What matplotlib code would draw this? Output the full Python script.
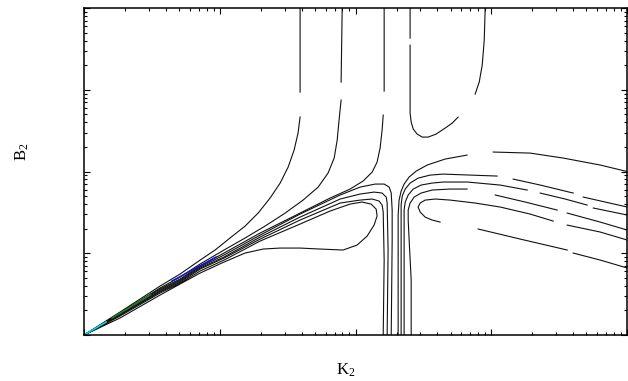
import numpy as np
import matplotlib
matplotlib.use('Agg')
import matplotlib.pyplot as plt
from matplotlib.ticker import LogLocator, NullFormatter

plt.rcParams['font.family'] = ['Liberation Serif', 'DejaVu Serif']
plt.rcParams['mathtext.fontset'] = 'custom'
plt.rcParams['mathtext.rm'] = 'Liberation Serif'
plt.rcParams['mathtext.it'] = 'Liberation Serif:italic'

nan = np.nan

# contour paths, stored as log10(K2), log10(B2); nan marks a label gap
k_up1 = [-2.0, -1.735, -1.44, -1.293, -1.145, -1.035, -0.925, -0.814, -0.718, -0.63, -0.556, -0.497, -0.453, -0.424, -0.409, nan, -0.409, -0.409]
b_up1 = [-2.0, -1.719, -1.401, -1.254, -1.083, -0.96, -0.813, -0.667, -0.508, -0.324, -0.141, 0.055, 0.263, 0.471, 0.667, nan, 0.972, 2.0]

k_up2 = [-2.0, -1.735, -1.44, -1.293, -1.145, -0.969, -0.814, -0.667, -0.519, -0.387, -0.276, -0.203, -0.158, -0.136, -0.122, -0.107, nan, -0.107, -0.099]
b_up2 = [-2.0, -1.731, -1.425, -1.291, -1.131, -0.96, -0.813, -0.667, -0.508, -0.349, -0.19, -0.018, 0.165, 0.385, 0.63, 0.875, nan, 1.095, 2.0]

k_up3 = [-2.0, -1.735, -1.44, -1.293, -1.145, -0.969, -0.703, -0.409, -0.188, -0.041, 0.055, 0.122, 0.158, 0.18, 0.195, 0.203, nan, 0.21, 0.21]
b_up3 = [-2.0, -1.731, -1.437, -1.315, -1.156, -0.997, -0.752, -0.508, -0.324, -0.214, -0.116, -0.006, 0.116, 0.287, 0.508, 0.691, nan, 0.985, 2.0]

k_l1 = [-2.0, -1.735, -1.44, -1.293, -1.145, -0.969, -0.703, -0.409, -0.114, 0.033, 0.144, 0.21, 0.247, 0.262, 0.269, 0.269, 0.262]
b_l1 = [-2.0, -1.743, -1.45, -1.327, -1.168, -1.021, -0.777, -0.52, -0.287, -0.19, -0.153, -0.153, -0.19, -0.263, -0.471, -0.838, -2.0]

k_l2 = [-2.0, -1.735, -1.44, -1.293, -1.145, -0.969, -0.703, -0.409, -0.114, 0.033, 0.136, 0.195, 0.225, 0.232, 0.239, 0.232]
b_l2 = [-2.0, -1.755, -1.462, -1.339, -1.18, -1.046, -0.801, -0.557, -0.336, -0.275, -0.251, -0.263, -0.312, -0.385, -0.96, -2.0]

k_l3 = [-2.0, -1.735, -1.44, -1.293, -1.145, -0.969, -0.703, -0.409, -0.114, 0.033, 0.122, 0.173, 0.195, 0.203, 0.21, 0.203]
b_l3 = [-2.0, -1.755, -1.474, -1.352, -1.193, -1.058, -0.826, -0.593, -0.385, -0.349, -0.336, -0.361, -0.41, -0.495, -1.083, -2.0]

k_lobe = [-2.0, -1.735, -1.44, -1.293, -1.145, -0.969, -0.703, -0.409, -0.188, -0.041, 0.047, 0.114, 0.151, 0.158, 0.136,
          0.085, 0.011, -0.092, -0.262, -0.409, -0.556, -0.681, -0.814, -0.969, -1.145, -1.293, -1.44, -1.735, -2.0]
b_lobe = [-2.0, -1.768, -1.486, -1.364, -1.217, -1.083, -0.85, -0.642, -0.483, -0.398, -0.373, -0.398, -0.459, -0.544, -0.654,
          -0.789, -0.899, -0.96, -0.948, -0.936, -0.936, -0.948, -0.997, -1.107, -1.242, -1.376, -1.511, -1.792, -2.0]

k_u = [0.401, 0.401, nan, 0.401, 0.401, 0.409, 0.424, 0.453, 0.49, 0.534, 0.593, 0.659, 0.711, 0.755, nan, 0.88, 0.91, 0.932, 0.947, 0.954]
b_u = [2.0, 1.633, nan, 1.547, 0.716, 0.606, 0.52, 0.459, 0.422, 0.422, 0.459, 0.532, 0.593, 0.667, nan, 0.948, 1.095, 1.303, 1.609, 2.0]

k_r1 = [0.313, 0.313, 0.313, 0.32, 0.335, 0.357, 0.394, 0.446, 0.527, 0.659, 0.821, nan, 1.013, 1.285, 1.529, 1.801, 2.0]
b_r1 = [-2.0, -0.96, -0.532, -0.349, -0.239, -0.153, -0.067, 0.006, 0.08, 0.153, 0.202, nan, 0.239, 0.226, 0.165, 0.08, 0.0]

k_r2 = [0.335, 0.335, 0.335, 0.343, 0.365, 0.401, 0.46, 0.549, 0.645, 0.843, 1.042, nan, 1.16, 1.359, 1.602, nan, 1.676, 1.838, 2.0]
b_r2 = [-2.0, -0.96, -0.41, -0.3, -0.214, -0.141, -0.08, -0.043, -0.031, -0.043, -0.055, nan, -0.092, -0.165, -0.263, nan, -0.312, -0.373, -0.434]

k_r3 = [0.357, 0.357, 0.357, 0.365, 0.387, 0.424, 0.482, 0.563, 0.645, 0.821, 1.064, 1.263, nan, 1.359, 1.543, 1.705, nan, 1.75, 2.0]
b_r3 = [-2.0, -0.96, -0.471, -0.373, -0.287, -0.214, -0.165, -0.141, -0.128, -0.128, -0.165, -0.226, nan, -0.263, -0.336, -0.41, nan, -0.446, -0.532]

k_r4 = [0.409, 0.409, 0.394, 0.387, 0.387, 0.401, 0.431, 0.482, 0.563, 0.696, 0.821, nan, 1.028, 1.249, 1.484, nan, 1.558, 1.801, 2.0]
b_r4 = [-2.0, -1.327, -0.838, -0.593, -0.471, -0.385, -0.312, -0.263, -0.226, -0.214, -0.214, nan, -0.287, -0.373, -0.471, nan, -0.508, -0.618, -0.716]

k_r5 = [0.622, 0.563, 0.512, 0.475, 0.46, 0.475, 0.512, 0.586, 0.696, 0.88, 1.064, 1.285, 1.455, nan, 1.558, 1.801, 2.0]
b_r5 = [-0.618, -0.593, -0.557, -0.495, -0.434, -0.385, -0.349, -0.336, -0.349, -0.385, -0.434, -0.52, -0.606, nan, -0.655, -0.74, -0.838]

k_r6 = [0.902, 1.212, 1.558, nan, 1.602, 1.801, 2.0]
b_r6 = [-0.703, -0.826, -0.96, nan, -0.997, -1.083, -1.18]

# low levels drawn in colour along the diagonal
k_cyan = [-2.0, -1.838]
b_cyan = [-2.0, -1.841]
k_green = [-1.794, -1.514]
b_green = [-1.792, -1.511]
k_blue = [-1.352, -1.028]
b_blue = [-1.339, -1.046]

black_paths = [(k_up1, b_up1), (k_up2, b_up2), (k_up3, b_up3),
               (k_l1, b_l1), (k_l2, b_l2), (k_l3, b_l3), (k_lobe, b_lobe),
               (k_u, b_u), (k_r1, b_r1), (k_r2, b_r2), (k_r3, b_r3),
               (k_r4, b_r4), (k_r5, b_r5), (k_r6, b_r6)]

fig = plt.figure(figsize=(6.28, 3.81), dpi=100)
ax = fig.add_axes([0.1338, 0.1207, 0.865, 0.858])

for k, b in black_paths:
    ax.plot(10**np.array(k), 10**np.array(b), color='#111111', lw=0.8)

ax.plot(10**np.array(k_cyan), 10**np.array(b_cyan), color='#00d8e0', lw=1.2)
ax.plot(10**np.array(k_green), 10**np.array(b_green), color='#1a8a1a', lw=1.0)
ax.plot(10**np.array(k_blue), 10**np.array(b_blue), color='#1010e0', lw=1.1)

ax.set_xscale('log')
ax.set_yscale('log')
ax.set_xlim(1e-2, 1e2)
ax.set_ylim(1e-2, 1e2)

for axis in (ax.xaxis, ax.yaxis):
    axis.set_major_locator(LogLocator(base=10, numticks=10))
    axis.set_minor_locator(LogLocator(base=10, subs=np.arange(2, 10), numticks=10))
    axis.set_major_formatter(NullFormatter())
    axis.set_minor_formatter(NullFormatter())

ax.tick_params(which='both', direction='in', top=True, right=True, width=0.8)
ax.tick_params(which='major', length=4.5)
ax.tick_params(which='minor', length=2.5)
for s in ax.spines.values():
    s.set_linewidth(1.1)

ax.set_xlabel(r'K$_{2}$', fontsize=12)
ax.set_ylabel(r'B$_{2}$', fontsize=12)
ax.xaxis.set_label_coords(0.482, -0.107)
ax.yaxis.set_label_coords(-0.114, 0.56)
ax.xaxis.label.set_verticalalignment('center')
ax.yaxis.label.set_verticalalignment('center')

fig.savefig('out.png', dpi=100)
